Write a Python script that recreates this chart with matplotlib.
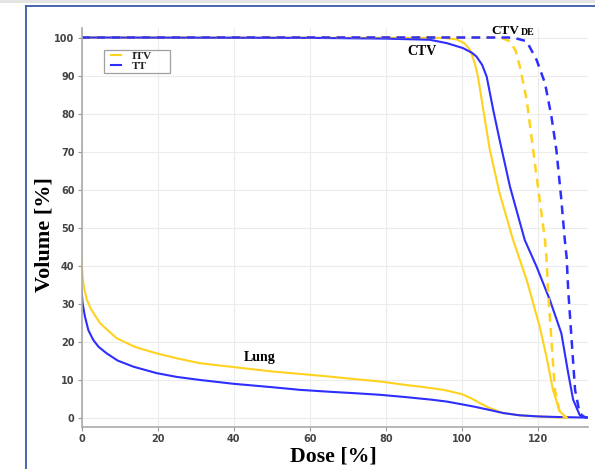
import matplotlib
matplotlib.use("Agg")
import matplotlib.pyplot as plt
from matplotlib.lines import Line2D
from matplotlib.patches import Rectangle
from matplotlib.legend_handler import HandlerLine2D

# ---------------- data ----------------
lung_itv_x = [0, 0.3, 0.7, 1.4, 2.5, 4.9, 9.2, 14, 19.7, 25, 31.1, 39.8, 50.3, 57.3, 65, 72, 78.3, 85, 90, 95, 99.8, 102.5, 104.6, 107.2, 110.7, 115, 120, 124, 127]
lung_itv_y = [42, 37, 34, 31, 28.5, 24.8, 20.9, 18.6, 16.9, 15.6, 14.3, 13.3, 12.1, 11.5, 10.8, 10.1, 9.5, 8.6, 8.0, 7.3, 6.2, 5.0, 3.8, 2.5, 1.2, 0.6, 0.3, 0.1, 0]
lung_tt_x = [0, 0.3, 0.9, 1.8, 3.1, 4.5, 6.6, 9.5, 13.6, 19.7, 25, 31.1, 39.8, 50, 57.3, 65, 72, 78.3, 85, 92, 96, 99.8, 103, 107.2, 110.7, 115, 120, 125, 130, 133]
lung_tt_y = [33.6, 30, 26.6, 23, 20.4, 18.6, 16.9, 15.0, 13.4, 11.7, 10.7, 9.9, 8.9, 8.0, 7.3, 6.8, 6.4, 6.0, 5.4, 4.7, 4.2, 3.5, 2.9, 2.0, 1.2, 0.6, 0.3, 0.15, 0.05, 0]

ctv_itv_x = [0, 95, 98.5, 100.5, 102, 103.2, 104.1, 105.5, 107.2, 109.8, 113.3, 116.9, 120.3, 122.1, 123.8, 125.6, 127.4]
ctv_itv_y = [100, 99.9, 99.5, 98.5, 96.8, 93.5, 89.7, 81, 70.5, 59, 46.8, 36.2, 24, 16, 7.3, 1.6, 0]
ctv_tt_x = [0, 60, 80, 91.5, 96, 100.2, 102.5, 103.7, 105.2, 106.4, 108.1, 109.8, 112.5, 116.4, 119.5, 123, 126, 127.8, 129.1, 130.8, 131.5, 133]
ctv_tt_y = [100, 99.9, 99.7, 99.4, 98.5, 97.2, 96, 95, 92.8, 89.7, 81, 73, 60.8, 46.7, 39.7, 30.9, 22.2, 11.7, 4.7, 0.7, 0.2, 0]

de_itv_x = [0, 108.5, 110.5, 112.5, 114, 115.1, 116.9, 118.6, 120.3, 121.7, 122.1, 122.5, 123.4, 124.3, 125.6, 126.5, 127.4]
de_itv_y = [100, 100, 99.8, 99, 96.5, 92.4, 83.6, 70.4, 57.3, 46.8, 42, 33.6, 20.4, 7.3, 1.2, 0.3, 0]
de_tt_x = [0, 112, 114, 116.9, 119.5, 121.7, 123.4, 124.7, 126, 126.9, 127.4, 127.8, 128.7, 129.6, 130.8, 131.8, 132.6]
de_tt_y = [100, 100, 99.8, 99, 94.1, 88, 79.2, 70.4, 57.3, 46.8, 42, 33.6, 20.4, 7.3, 1.2, 0.3, 0]

x_ticks = [0, 20, 40, 60, 80, 100, 120]
y_ticks = [0, 10, 20, 30, 40, 50, 60, 70, 80, 90, 100]
legend_labels = ["ITV", "TT"]

# ---------------- style ----------------
YEL = "#FFD21F"
BLU = "#2E2EFF"
SERIF = ["Liberation Serif", "DejaVu Serif"]

fig = plt.figure(figsize=(5.95, 4.69), dpi=100)
fig.patch.set_facecolor("white")

# outer frame (blue) and top gray strip
fig.patches.append(Rectangle((0, 1 - 3 / 469), 1, 3 / 469, transform=fig.transFigure,
                             facecolor="#e4e4e4", edgecolor="none", zorder=0))
fig.add_artist(Line2D([26 / 595, 26 / 595], [0, 1 - 6 / 469], transform=fig.transFigure,
                      color="#3b5ba6", lw=1.3))
fig.add_artist(Line2D([26 / 595, 1], [1 - 6 / 469, 1 - 6 / 469], transform=fig.transFigure,
                      color="#3b5ba6", lw=1.3))

ax = fig.add_axes([81.5 / 595, 1 - 426.7 / 469, (588 - 81.5) / 595, (426.7 - 28) / 469])
ax.set_xlim(0, 133)
ax.set_ylim(-2.4, 102.5)

ax.plot(lung_itv_x, lung_itv_y, color=YEL, lw=1.5)
ax.plot(lung_tt_x, lung_tt_y, color=BLU, lw=1.5)
ax.plot(ctv_itv_x, ctv_itv_y, color=YEL, lw=1.5)
ax.plot(ctv_tt_x, ctv_tt_y, color=BLU, lw=1.5)
ax.plot(de_itv_x, de_itv_y, color=YEL, lw=1.8, dashes=(3.5, 2.5))
ax.plot(de_tt_x, de_tt_y, color=BLU, lw=1.8, dashes=(3.5, 2.5))

ax.set_xticks(x_ticks)
ax.set_yticks(y_ticks)
ax.tick_params(axis="both", labelsize=7, labelcolor="#444444", color="#999999",
               length=3, width=0.8, pad=2)
for lab in ax.get_xticklabels() + ax.get_yticklabels():
    lab.set_fontweight("bold")
ax.grid(True, color="#ececec", lw=0.8)
ax.set_axisbelow(True)
for s in ["top", "right"]:
    ax.spines[s].set_visible(False)
for s in ["left", "bottom"]:
    ax.spines[s].set_color("#aaaaaa")
    ax.spines[s].set_linewidth(1.2)

fig.text(333 / 595, 1 - 456 / 469, "Dose [%]", family=SERIF, fontweight="bold",
         fontsize=15.7, ha="center", va="center")
fig.text(45 / 595, 1 - 235 / 469, "Volume [%]", family=SERIF, fontweight="bold",
         fontsize=16, ha="center", va="center", rotation=90)

ax.text(89.4, 96.2, "CTV", family=SERIF, fontweight="bold", fontsize=10,
        ha="center", va="center")
ax.text(107.5, 101.8, "CTV", family=SERIF, fontweight="bold", fontsize=9.5,
        ha="left", va="center", clip_on=False)
ax.text(115.4, 101.2, "DE", family=SERIF, fontweight="bold", fontsize=7,
        ha="left", va="center", clip_on=False)
ax.text(46.9, 15.8, "Lung", family=SERIF, fontweight="bold", fontsize=10,
        ha="center", va="center")

handles = [Line2D([], [], color=YEL, lw=1.5), Line2D([], [], color=BLU, lw=1.5)]
leg = ax.legend(handles, legend_labels, loc="upper left",
                bbox_to_anchor=(0.0445, 0.885, 0.131, 0.06), mode="expand",
                prop={"family": SERIF, "weight": "bold", "size": 8.2},
                handler_map={Line2D: HandlerLine2D(xpad=0.5)},
                frameon=True, fancybox=False, edgecolor="#888888", handlelength=1.35,
                handletextpad=0.95, labelspacing=0.0, borderpad=0.12, borderaxespad=0)
leg.get_frame().set_linewidth(0.9)
for t in leg.get_texts():
    t.set_color("#222222")

fig.savefig("out.png", dpi=100)
